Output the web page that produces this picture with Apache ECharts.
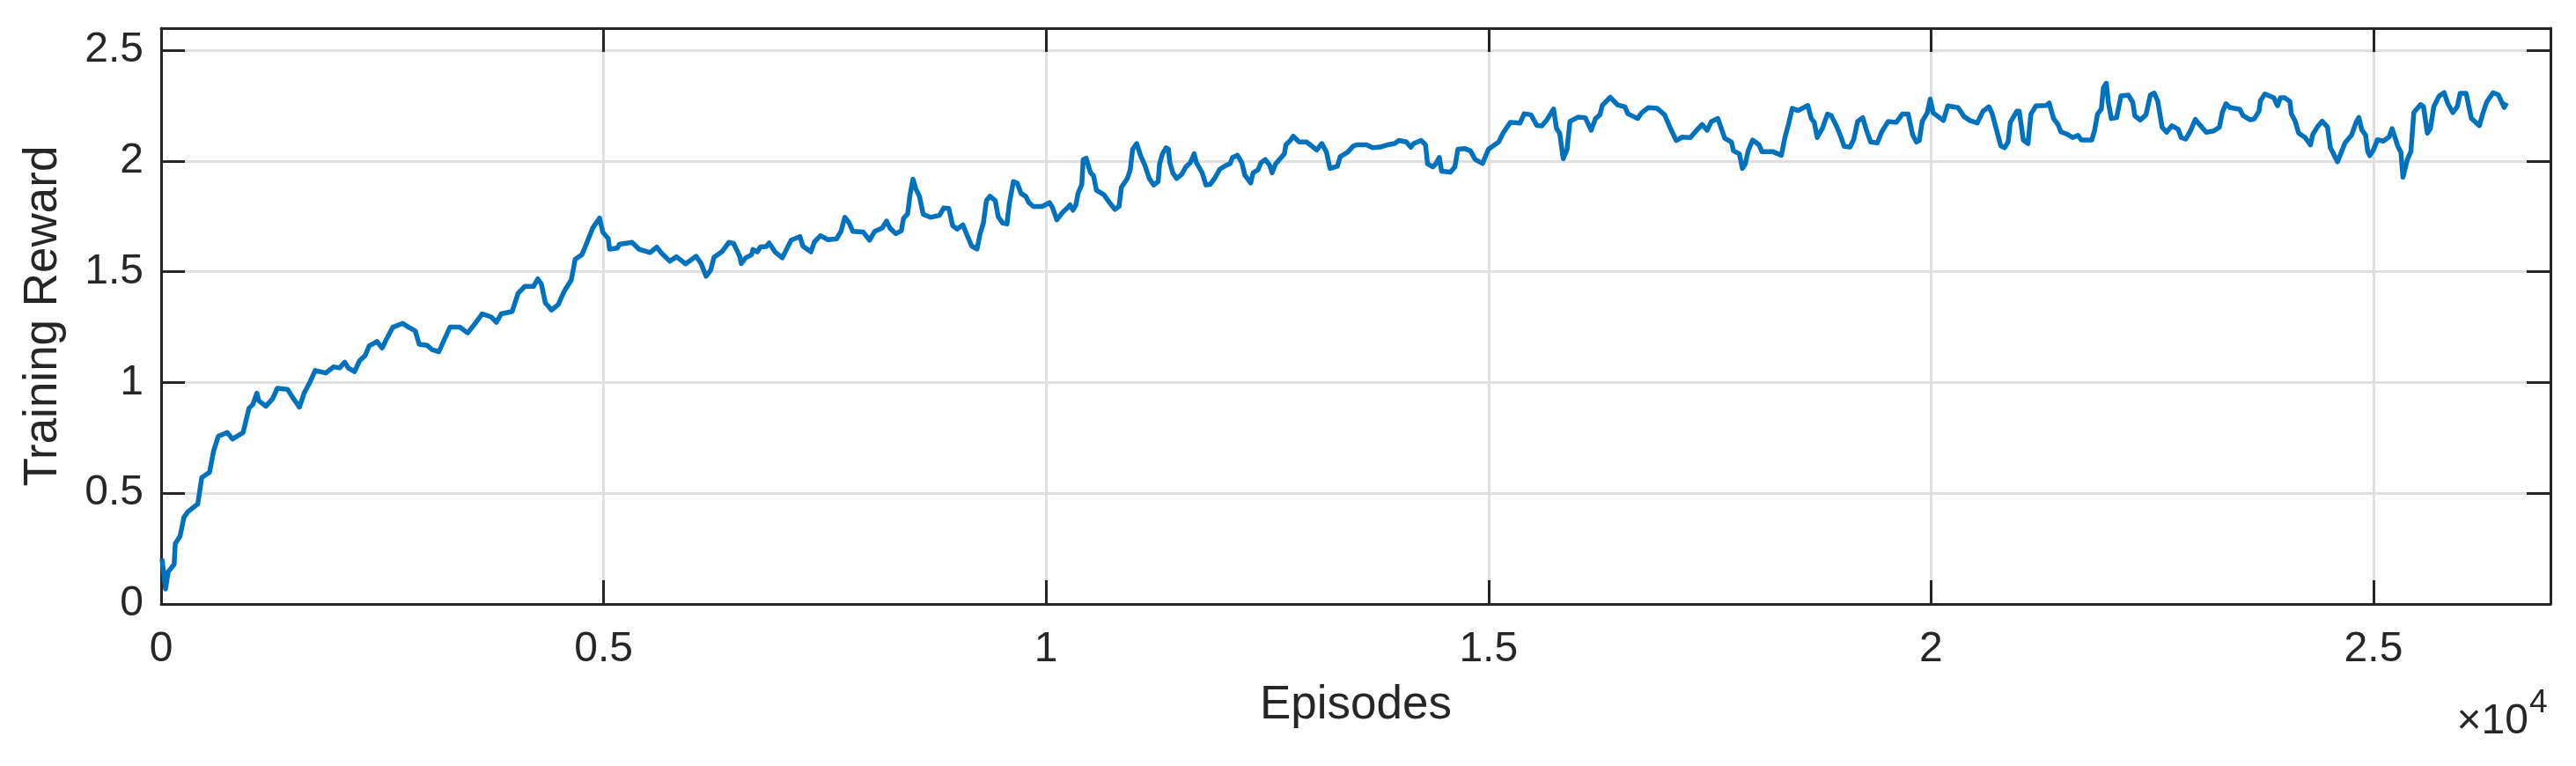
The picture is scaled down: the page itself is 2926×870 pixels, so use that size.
<!DOCTYPE html>
<html>
<head>
<meta charset="utf-8">
<title>Training Reward</title>
<script src="https://cdn.jsdelivr.net/npm/echarts@6/dist/echarts.min.js"></script>
<style>
  html, body { margin: 0; padding: 0; background: #fff; }
  #chart { width: 2926px; height: 870px; }
</style>
</head>
<body>
<div id="chart"></div>
<script>
// episodes (x)
const episodes = [
  10, 50, 80, 147, 160, 214, 258, 303, 414, 459, 548, 592, 646, 748, 806, 926, 993, 1037, 1082, 1104,
  1184, 1260, 1313, 1429, 1483, 1563, 1616, 1683, 1741, 1861, 1950, 2017, 2075, 2115, 2186, 2240, 2306, 2351, 2440, 2498,
  2551, 2618, 2729, 2796, 2872, 2916, 3005, 3063, 3139, 3206, 3264, 3375, 3464, 3540, 3629, 3731, 3789, 3842, 3967, 4034,
  4110, 4208, 4256, 4296, 4341, 4412, 4488, 4555, 4635, 4679, 4755, 4813, 4875, 4955, 4991, 5053, 5067, 5156, 5178, 5321,
  5401, 5525, 5601, 5659, 5748, 5824, 5926, 6046, 6104, 6158, 6211, 6247, 6336, 6416, 6469,
  6539, 6556, 6605, 6672, 6688, 6738, 6771, 6838, 6871, 6937, 7020, 7120, 7219, 7252, 7342, 7385, 7451, 7534, 7634, 7683,
  7726, 7773, 7816, 7932, 8005, 8065, 8148, 8198, 8238, 8304, 8364, 8390, 8436, 8463, 8496, 8529, 8569, 8612, 8695, 8795,
  8844, 8901, 8944, 8994, 9060, 9110, 9160, 9220, 9253, 9293, 9326, 9366, 9426, 9459, 9509, 9558, 9585, 9631, 9674, 9717,
  9774, 9807, 9857, 9956, 10039, 10072, 10122, 10188, 10248, 10271, 10304, 10337, 10361, 10404, 10420, 10453, 10503, 10536, 10570, 10653,
  10712,
  10778, 10825, 10851, 10918, 10951, 10978, 11024, 11067, 11117, 11167, 11217, 11267, 11283, 11316, 11356, 11383, 11399, 11432, 11475, 11532,
  11581, 11631, 11674, 11698, 11764, 11807, 11854, 11913, 11963, 12030, 12080, 12106, 12163, 12212, 12246, 12312, 12339, 12395, 12428, 12478,
  12528, 12554, 12594, 12693, 12710, 12760, 12793, 12860, 12943, 13009, 13059, 13116, 13169, 13208, 13291, 13325, 13408, 13467, 13507, 13623,
  13690, 13773, 13856, 13939, 13989, 14072, 14122, 14155, 14238, 14288, 14311, 14371, 14404, 14444, 14470, 14570, 14620, 14653, 14736, 14796,
  14849, 14932, 14999, 15115, 15164, 15247, 15357, 15403, 15479, 15546, 15602, 15662, 15735, 15768, 15804, 15844, 15887, 15920, 16010, 16093,
  16159, 16209, 16259, 16285, 16375, 16458, 16541, 16574, 16684, 16730, 16806, 16906, 16989, 17055, 17121, 17188, 17281, 17337, 17413, 17470,
  17519, 17592, 17669, 17745, 17768, 17834, 17868, 17901, 17934, 17984, 18057, 18090, 18216, 18309, 18349, 18389, 18432, 18498, 18608, 18647,
  18681, 18714, 18773,
  18830, 18873, 18939, 18979, 19019, 19085, 19128, 19171, 19228, 19271, 19318, 19394, 19443, 19517, 19609, 19676, 19742, 19792, 19835, 19868,
  19901, 19958, 19991, 20024, 20090, 20140, 20190, 20306, 20373, 20439, 20522, 20588, 20655, 20688, 20755, 20788, 20831, 20871, 20897, 20970,
  20997, 21043, 21096, 21129, 21186, 21302, 21335, 21385, 21435, 21468, 21534, 21601, 21660, 21700, 21816, 21849, 21882, 21925, 21948, 21981,
  22004, 22038, 22097, 22147, 22230, 22280, 22303, 22363, 22429, 22479, 22522, 22562, 22612, 22662, 22721, 22794, 22827, 22877, 22927, 22987,
  23043,
  23110, 23193, 23259, 23292, 23332, 23375, 23491, 23524, 23607, 23650, 23707, 23723, 23773, 23873, 23916, 23949, 23996, 24055, 24072, 24115,
  24155, 24228, 24288, 24314, 24371, 24420, 24480, 24513, 24553, 24593, 24626, 24679, 24752, 24802, 24835, 24868, 24911, 24935, 24958, 25001,
  25044, 25110, 25177, 25210, 25276, 25310, 25333, 25383, 25423, 25456, 25532, 25565, 25609, 25642, 25682, 25741, 25798, 25841, 25897, 25947,
  25980, 26047, 26106, 26196, 26239, 26279, 26352, 26411, 26478, 26504
];

// training reward (y)
const reward = [
  0.204, 0.068, 0.145, 0.179, 0.272, 0.306, 0.391, 0.417, 0.451, 0.570, 0.595, 0.689, 0.757, 0.774, 0.745, 0.774, 0.884, 0.901, 0.952, 0.918,
  0.893, 0.927, 0.974, 0.969, 0.935, 0.889, 0.952, 1.003, 1.054, 1.043, 1.071, 1.066, 1.092, 1.066, 1.049, 1.097, 1.122, 1.165, 1.185, 1.156,
  1.199, 1.250, 1.267, 1.250, 1.233, 1.173, 1.168, 1.148, 1.139, 1.199, 1.250, 1.250, 1.224, 1.262, 1.310, 1.296, 1.272, 1.310, 1.321, 1.403,
  1.434, 1.434, 1.468, 1.446, 1.361, 1.327, 1.352, 1.412, 1.463, 1.556, 1.577, 1.633, 1.696, 1.743, 1.679, 1.650, 1.602, 1.607, 1.624, 1.633,
  1.602, 1.587, 1.611, 1.582, 1.548, 1.568, 1.536, 1.570, 1.536, 1.480, 1.508, 1.565, 1.590, 1.633, 1.628,
  1.570, 1.537, 1.563, 1.577, 1.601, 1.590, 1.612, 1.614, 1.630, 1.590, 1.563, 1.643, 1.659, 1.616, 1.590, 1.636, 1.663, 1.645, 1.649, 1.683,
  1.746, 1.722, 1.683, 1.680, 1.643, 1.683, 1.698, 1.729, 1.696, 1.672, 1.685, 1.742, 1.762, 1.848, 1.918, 1.874, 1.841, 1.759, 1.746, 1.755,
  1.788, 1.786, 1.709, 1.693, 1.712, 1.663, 1.616, 1.603, 1.669, 1.722, 1.821, 1.841, 1.821, 1.749, 1.720, 1.716, 1.808, 1.907, 1.901, 1.854,
  1.839, 1.812, 1.795, 1.795, 1.812, 1.791, 1.735, 1.769, 1.791, 1.802, 1.778, 1.802, 1.854, 1.894, 2.007, 2.013, 1.947, 1.934, 1.868, 1.848,
  1.815,
  1.782, 1.795, 1.881, 1.921, 1.960, 2.053, 2.079, 2.026, 1.980, 1.921, 1.892, 1.908, 1.987, 2.033, 2.060, 2.053, 1.993, 1.947, 1.921, 1.940,
  1.974, 1.993, 2.033, 1.993, 1.947, 1.892, 1.894, 1.927, 1.963, 1.980, 1.989, 2.016, 2.026, 1.993, 1.937, 1.901, 1.947, 1.960, 1.993, 2.007,
  1.980, 1.947, 1.987, 2.033, 2.073, 2.093, 2.112, 2.086, 2.086, 2.066, 2.050, 2.079, 2.040, 1.967, 1.976, 2.020, 2.040, 2.066, 2.073, 2.073,
  2.060, 2.063, 2.073, 2.079, 2.093, 2.086, 2.063, 2.079, 2.093, 2.073, 1.987, 1.974, 1.987, 2.016, 1.954, 1.950, 1.974, 2.053, 2.056, 2.046,
  2.007, 1.989, 2.053, 2.086, 2.126, 2.175, 2.172, 2.214, 2.209, 2.161, 2.159, 2.188, 2.235, 2.148, 2.126, 2.011, 2.053, 2.179, 2.198, 2.196,
  2.139, 2.192, 2.209, 2.251, 2.288, 2.254, 2.245, 2.214, 2.192, 2.218, 2.241, 2.238, 2.209, 2.148, 2.093, 2.108, 2.106, 2.132, 2.165, 2.139,
  2.179, 2.192, 2.103, 2.086, 2.046, 2.033, 1.967, 1.987, 2.046, 2.095, 2.073, 2.042, 2.042, 2.026, 2.106, 2.165, 2.238, 2.228, 2.251, 2.192,
  2.175, 2.106, 2.148,
  2.212, 2.205, 2.152, 2.112, 2.066, 2.063, 2.099, 2.179, 2.196, 2.139, 2.086, 2.082, 2.132, 2.179, 2.175, 2.212, 2.212, 2.119, 2.086, 2.093,
  2.179, 2.218, 2.280, 2.218, 2.198, 2.183, 2.249, 2.241, 2.201, 2.183, 2.172, 2.225, 2.245, 2.218, 2.119, 2.069, 2.060, 2.086, 2.175, 2.225,
  2.225, 2.095, 2.079, 2.212, 2.249, 2.251, 2.262, 2.192, 2.165, 2.132, 2.122, 2.106, 2.116, 2.095, 2.095, 2.139, 2.212, 2.235, 2.331, 2.351,
  2.265, 2.192, 2.196, 2.294, 2.298, 2.265, 2.205, 2.185, 2.209, 2.298, 2.307, 2.271, 2.152, 2.130, 2.159, 2.143, 2.106, 2.099, 2.132, 2.188,
  2.161,
  2.130, 2.136, 2.153, 2.219, 2.259, 2.242, 2.233, 2.206, 2.186, 2.189, 2.226, 2.273, 2.303, 2.286, 2.250, 2.286, 2.286, 2.269, 2.213, 2.180,
  2.126, 2.106, 2.073, 2.120, 2.157, 2.180, 2.153, 2.060, 2.029, 1.997, 2.029, 2.082, 2.117, 2.173, 2.197, 2.140, 2.117, 2.043, 2.024, 2.051,
  2.096, 2.090, 2.109, 2.146, 2.066, 2.040, 1.927, 2.007, 2.043, 2.219, 2.255, 2.246, 2.126, 2.146, 2.246, 2.293, 2.309, 2.259, 2.219, 2.246,
  2.306, 2.306, 2.193, 2.160, 2.219, 2.266, 2.309, 2.299, 2.242, 2.263
];

// axis ranges and tick steps
const xRange = [0, 27000];
const xStep = 5000;
const yRange = [0, 2.6];
const yStep = 0.5;

const axisColor = '#262626';
const gridColor = '#dfdfdf';
const fontFamily = '"Liberation Sans", Arial, Helvetica, sans-serif';

// MATLAB-style box: ticks inside, on all four sides
const tickStyle = { show: true, inside: true, length: 27, lineStyle: { color: axisColor, width: 3 } };
const lineStyle = { show: true, onZero: false, lineStyle: { color: axisColor, width: 3 } };

const option = {
  animation: false,
  backgroundColor: '#fff',
  grid: { left: 183, right: 29, top: 32, bottom: 184, outerBoundsMode: 'none' },
  xAxis: [
    {
      type: 'value', position: 'bottom',
      min: xRange[0], max: xRange[1], interval: xStep,
      name: 'Episodes', nameLocation: 'middle', nameGap: 89,
      nameTextStyle: { fontSize: 53, color: axisColor, fontFamily: fontFamily },
      axisLine: lineStyle,
      axisTick: tickStyle,
      axisLabel: {
        margin: 28, fontSize: 48, color: axisColor, fontFamily: fontFamily,
        formatter: function (v) { return v % xStep === 0 ? String(v / 10000) : ''; }
      },
      splitLine: { show: true, lineStyle: { color: gridColor, width: 3 } }
    },
    {
      type: 'value', position: 'top',
      min: xRange[0], max: xRange[1], interval: xStep,
      axisLine: lineStyle, axisTick: tickStyle,
      axisLabel: { show: false }, splitLine: { show: false }
    }
  ],
  yAxis: [
    {
      type: 'value', position: 'left',
      min: yRange[0], max: yRange[1], interval: yStep,
      name: 'Training Reward', nameLocation: 'middle', nameGap: 107,
      nameTextStyle: { fontSize: 53, color: axisColor, fontFamily: fontFamily },
      axisLine: lineStyle,
      axisTick: tickStyle,
      axisLabel: {
        margin: 20, fontSize: 48, color: axisColor, fontFamily: fontFamily,
        formatter: function (v) {
          return Math.abs(v / yStep - Math.round(v / yStep)) < 1e-6 ? String(+v.toFixed(1)) : '';
        }
      },
      splitLine: { show: true, lineStyle: { color: gridColor, width: 3 } }
    },
    {
      type: 'value', position: 'right',
      min: yRange[0], max: yRange[1], interval: yStep,
      axisLine: lineStyle, axisTick: tickStyle,
      axisLabel: { show: false }, splitLine: { show: false }
    }
  ],
  // exponent label of the x axis
  graphic: [
    {
      type: 'text', x: 2872, y: 820,
      style: { text: '×10', fontSize: 48, fontFamily: fontFamily, fill: axisColor, align: 'right', verticalAlign: 'middle' }
    },
    {
      type: 'text', x: 2873, y: 799,
      style: { text: '4', fontSize: 37, fontFamily: fontFamily, fill: axisColor, align: 'left', verticalAlign: 'middle' }
    }
  ],
  series: [
    {
      type: 'line',
      xAxisIndex: 0, yAxisIndex: 0,
      data: episodes.map(function (e, i) { return [e, reward[i]]; }),
      showSymbol: false, symbol: 'none',
      lineStyle: { color: '#0072BD', width: 5.5, join: 'round' }
    }
  ]
};

const chartObj = echarts.init(document.getElementById('chart'));
chartObj.setOption(option);
window.onresize = chartObj.resize;
</script>
</body>
</html>
